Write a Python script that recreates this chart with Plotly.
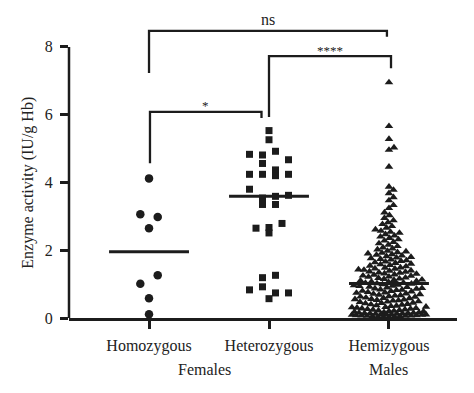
import numpy as np
import plotly.graph_objects as go

# ---------------- data ----------------
categories = ["Homozygous", "Heterozygous", "Hemizygous"]
group_labels = ["Females", "Males"]
y_title = "Enzyme activity (IU/g Hb)"
y_ticks = [0, 2, 4, 6, 8]

homozygous = [4.12, 3.06, 2.98, 2.65, 1.01, 1.26, 0.58, 0.11]

heterozygous = [5.53, 5.26,
                4.83, 4.81, 4.92, 4.67,
                4.56, 4.37,
                4.24, 4.24, 4.20, 4.24,
                3.80, 3.54, 3.59, 3.62,
                3.35, 3.35,
                2.65, 2.67, 2.79,
                2.51,
                1.19, 1.26,
                0.83, 0.92, 0.74, 0.74,
                0.57]

hemizygous = [
    6.95, 5.66, 5.28, 5.03, 4.96, 4.46, 3.87,
    3.78, 3.68, 3.56, 3.47, 3.33, 3.24, 3.11, 3.03,
    2.95, 2.88, 2.82, 2.77, 2.71, 2.66, 2.61, 2.57, 2.54, 2.51,
    2.47, 2.43, 2.40, 2.36, 2.32, 2.28, 2.24, 2.20, 2.16, 2.12, 2.08, 2.05, 2.02,
    1.98, 1.96, 1.94, 1.92, 1.90, 1.88, 1.86, 1.84, 1.82, 1.80, 1.78, 1.76,
    1.74, 1.72, 1.70, 1.68, 1.66, 1.64, 1.62, 1.60, 1.58, 1.56, 1.54, 1.52,
    1.49, 1.48, 1.46, 1.45, 1.43, 1.42, 1.40, 1.39, 1.37, 1.36, 1.34, 1.33,
    1.31, 1.30, 1.28, 1.27, 1.25, 1.24, 1.22, 1.21, 1.19, 1.18, 1.16, 1.15,
    1.13, 1.12, 1.10, 1.09, 1.07, 1.06, 1.04, 1.03, 1.02, 1.01,
    0.99, 0.98, 0.96, 0.95, 0.94, 0.92, 0.91, 0.90, 0.88, 0.87, 0.86, 0.84,
    0.83, 0.82, 0.80, 0.79, 0.78, 0.76, 0.75, 0.74, 0.72, 0.71, 0.70, 0.68,
    0.67, 0.66, 0.64, 0.63, 0.62, 0.60, 0.59, 0.58, 0.56, 0.55, 0.54, 0.53,
    0.52, 0.51,
    0.49, 0.48, 0.47, 0.45, 0.44, 0.43, 0.41, 0.40, 0.39, 0.37, 0.36, 0.35,
    0.33, 0.32, 0.31, 0.30, 0.29, 0.28, 0.27, 0.26, 0.25, 0.24, 0.23, 0.22,
    0.21, 0.20, 0.19, 0.18, 0.17, 0.16, 0.15, 0.15, 0.14, 0.14, 0.13, 0.13,
    0.12, 0.12, 0.11, 0.11, 0.10, 0.10, 0.09, 0.09, 0.08, 0.08, 0.07, 0.07,
    0.06, 0.06, 0.05, 0.05, 0.04, 0.04, 0.03, 0.03,
]

# significance comparisons: (from category, to category, label)
comparisons = [(0, 2, "ns"), (1, 2, "****"), (0, 1, "*")]

# ---------------- layout constants ----------------
# the page body has an 8px default margin, so the figure is 8px smaller
W, H = 466, 385
M_L, M_R, M_T, M_B = 61, 17, 5, 75
Y_RANGE = [0, 9.0]
X_RANGE = [-0.667, 2.567]
PPU_Y = (H - M_T - M_B) / (Y_RANGE[1] - Y_RANGE[0])
PPU_X = (W - M_L - M_R) / (X_RANGE[1] - X_RANGE[0])
INK = "#1c1c1c"
TXT = "#222222"
FONT = "Liberation Serif, Times New Roman, serif"


def row_layout(values, row_gap, col_px):
    """Prism-like column scatter: group close values into rows, centre each row."""
    vals = np.asarray(values, float)
    order = sorted(range(len(vals)), key=lambda i: -vals[i])
    rows, cur = [], []
    for i in order:
        if cur and vals[cur[0]] - vals[i] > row_gap:
            rows.append(cur)
            cur = []
        cur.append(i)
    if cur:
        rows.append(cur)
    offs = np.zeros(len(vals))
    for r in rows:
        r = sorted(r)
        n = len(r)
        for k, i in enumerate(r):
            offs[i] = (k - (n - 1) / 2) * col_px / PPU_X
    return offs


def swarm_layout(values, d_px, cap_px):
    """Simple beeswarm in pixel space, capped width (overlap allowed)."""
    ys = np.asarray(values, float) * PPU_Y
    order = np.argsort(ys, kind="stable")
    px, py = [], []
    offs = np.zeros(len(ys))
    steps = np.arange(0.5, cap_px + 0.01, 0.5)
    for n, i in enumerate(order):
        y = ys[i]
        sgn = 1 if n % 2 == 0 else -1
        cands = [0.0] + [s * c for c in steps for s in (sgn, -sgn)]
        ax = np.array(px)
        ay = np.array(py)
        if len(ax):
            near = np.abs(ay - y) < d_px
            nx, ny = ax[near], ay[near]
        else:
            nx, ny = np.array([]), np.array([])
        best_c, best_d = 0.0, -1
        chosen = None
        for c in cands:
            dmin = np.sqrt((nx - c) ** 2 + (ny - y) ** 2).min() if len(nx) else np.inf
            if dmin >= d_px:
                chosen = c
                break
            if dmin > best_d:
                best_d, best_c = dmin, c
        if chosen is None:
            chosen = best_c
        px.append(chosen)
        py.append(y)
        offs[i] = chosen / PPU_X
    return offs


fig = go.Figure()

groups = [
    (homozygous, "circle", 8.5, row_layout(homozygous, 0.265, 17.4)),
    (heterozygous, "square", 7, row_layout(heterozygous, 0.265, 13)),
    (hemizygous, "triangle-up", 7.5, swarm_layout(hemizygous, 5.4, 37)),
]

for gi, (vals, sym, size, offs) in enumerate(groups):
    fig.add_trace(go.Scatter(
        x=gi + offs, y=vals, mode="markers", cliponaxis=False,
        marker=dict(symbol=sym, size=size, color=INK, line=dict(width=0)),
        showlegend=False, hoverinfo="y"))

for gi, (vals, _, _, _) in enumerate(groups):
    med = float(np.median(vals))
    fig.add_trace(go.Scatter(
        x=[gi - 0.333, gi + 0.333], y=[med, med], mode="lines",
        line=dict(color=INK, width=3), showlegend=False, hoverinfo="skip"))

# y axis line (0..8 only)
fig.add_shape(type="line", xref="paper", yref="y", x0=0, x1=0, y0=0, y1=y_ticks[-1],
              line=dict(color=INK, width=2.5))

# significance brackets
bracket_geom = {
    "ns": dict(xl=0.0, xr=1.983, top=8.47, bl=7.23, br=8.30),
    "****": dict(xl=1.0, xr=2.017, top=7.73, bl=5.93, br=7.37),
    "*": dict(xl=0.008, xr=0.9375, top=6.08, bl=4.57, br=5.90),
}
label_style = {"ns": (16, 8.80, "middle", 0), "****": (13, 7.73, "bottom", -4),
               "*": (13, 6.08, "bottom", -3)}
for a, b, lab in comparisons:
    g = bracket_geom[lab]
    fig.add_shape(type="path", xref="x", yref="y",
                  path=f"M {g['xl']},{g['bl']} L {g['xl']},{g['top']} L {g['xr']},{g['top']} L {g['xr']},{g['br']}",
                  line=dict(color=INK, width=2.3))
    fs, yy, anc, ysh = label_style[lab]
    fig.add_annotation(x=(g["xl"] + g["xr"]) / 2, y=yy, xref="x", yref="y",
                       text=lab, showarrow=False, yanchor=anc, yshift=ysh,
                       font=dict(family=FONT, size=fs, color=TXT))

# group labels under the axis
fig.add_annotation(x=0.46, y=-0.17, xref="x", yref="paper", text=group_labels[0],
                   showarrow=False, yanchor="middle", font=dict(family=FONT, size=16, color=TXT))
fig.add_annotation(x=2.0, y=-0.17, xref="x", yref="paper", text=group_labels[1],
                   showarrow=False, yanchor="middle", font=dict(family=FONT, size=16, color=TXT))

# y-axis title, centred on the 0..8 axis line
fig.add_annotation(x=-0.105, y=y_ticks[-1] / 2, xref="paper", yref="y", text=y_title,
                   textangle=-90, showarrow=False, xanchor="center", yanchor="middle",
                   font=dict(family=FONT, size=16, color=TXT))

fig.update_layout(
    width=W, height=H,
    margin=dict(l=M_L, r=M_R, t=M_T, b=M_B, pad=0),
    paper_bgcolor="white", plot_bgcolor="white",
    font=dict(family=FONT, size=16, color=TXT),
    xaxis=dict(range=X_RANGE, tickmode="array", tickvals=[0, 1, 2], ticktext=categories,
               showgrid=False, zeroline=False, showline=True, linecolor=INK, linewidth=2.5,
               ticks="outside", ticklen=8, tickwidth=2.5, tickcolor=INK, automargin=False,
               ticklabelstandoff=3, tickfont=dict(family=FONT, size=16, color=TXT)),
    yaxis=dict(range=Y_RANGE, tickmode="array", tickvals=y_ticks,
               showgrid=False, zeroline=False, showline=False, automargin=False,
               ticks="outside", ticklen=8, tickwidth=2.5, tickcolor=INK,
               ticklabelstandoff=4, tickfont=dict(family=FONT, size=16, color=TXT)),
)

fig.write_html("out.html")
